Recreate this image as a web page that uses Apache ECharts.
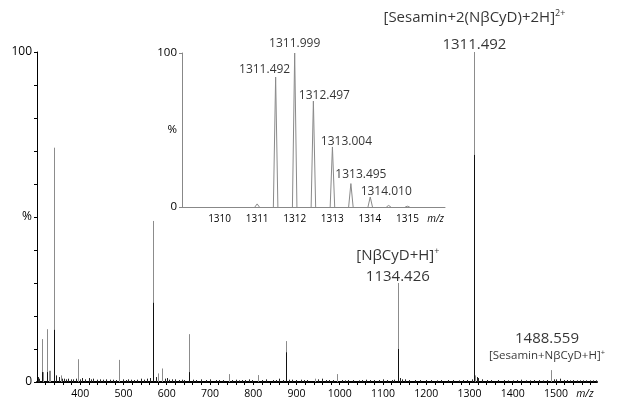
<!DOCTYPE html>
<html>
<head>
<meta charset="utf-8">
<script src="https://cdn.jsdelivr.net/npm/echarts@6/dist/echarts.min.js"></script>
<style>html,body{margin:0;padding:0;background:#fff}#c{width:617px;height:402px}</style>
</head>
<body>
<div id="c"></div>
<script>
// ---- main spectrum (m/z, relative intensity %) ----
const mainMz  = [310.5, 313, 322, 327.6, 329.5, 339.9, 356, 395.5, 488.5, 569.4, 580.3, 589.6, 650.8, 744.4, 812.2, 875.5, 942, 993.4, 1134.4, 1311.5, 1313.0, 1488.6];
const mainInt = [13, 3, 16, 3.4, 3.4, 71, 2, 6.9, 6.7, 48.8, 2.6, 4.1, 14.5, 2.4, 2.1, 12.4, 1, 2.4, 30, 100, 2, 3.6];
// darker (overlapping isotope lines) lower part of the main peaks
const darkMz  = [310.5, 322, 339.9, 569.4, 650.8, 875.5, 1134.4, 1311.5];
const darkInt = [3, 3, 15.8, 24, 3, 9, 10, 68.8];
// small baseline peaks
const noiseMz  = [302, 305, 345, 352, 358, 362, 368, 372, 378, 384, 390, 400, 405, 412, 420, 425, 430, 438, 445, 452, 460, 468, 475, 482, 498, 505, 510, 518, 525, 532, 540, 548, 555, 562, 575, 595, 600, 606, 612, 620, 628, 635, 640, 660, 668, 680, 690, 700, 715, 722, 730, 752, 760, 768, 775, 782, 790, 798, 820, 830, 845, 852, 860, 868, 882, 890, 900, 910, 918, 925, 950, 960, 968, 975, 985, 1005, 1012, 1020, 1030, 1045, 1052, 1060, 1070, 1080, 1090, 1100, 1110, 1120, 1126, 1140, 1145, 1150, 1160, 1175, 1185, 1200, 1210, 1225, 1235, 1250, 1262, 1275, 1285, 1295, 1305, 1318, 1320, 1330, 1340, 1350, 1365, 1380, 1390, 1400, 1410, 1420, 1430, 1440, 1450, 1460, 1470, 1480, 1495, 1500, 1510, 1518, 1525, 1532, 1540, 1548, 1555, 1562, 1570, 1578, 1585, 1592];
const noiseInt = [1.5, 1, 2, 1.5, 1, 1, 0.8, 1, 0.8, 0.8, 1, 0.8, 1.2, 0.8, 1.2, 0.8, 1, 0.7, 0.8, 0.7, 0.8, 0.7, 0.7, 0.6, 0.8, 0.6, 0.8, 0.7, 0.6, 0.7, 1, 0.7, 1, 1.2, 1.5, 1, 1.2, 0.7, 0.8, 0.8, 0.6, 0.7, 0.6, 0.7, 0.6, 0.8, 0.6, 0.8, 0.6, 0.6, 0.6, 0.6, 0.7, 0.5, 0.6, 0.6, 0.8, 0.6, 0.6, 0.8, 0.6, 0.6, 1, 0.6, 0.7, 0.7, 0.6, 0.7, 0.6, 0.6, 0.8, 1, 0.6, 0.6, 0.6, 0.6, 0.5, 0.6, 0.6, 0.5, 0.6, 0.7, 0.6, 0.6, 0.6, 0.8, 0.6, 0.6, 0.7, 1.2, 0.8, 0.8, 0.6, 0.6, 0.6, 0.6, 0.6, 0.5, 0.6, 0.6, 0.6, 0.5, 0.6, 0.6, 0.8, 1.5, 1.2, 0.8, 0.6, 0.6, 0.6, 0.6, 0.5, 0.5, 0.6, 0.7, 0.5, 0.5, 0.6, 0.6, 0.5, 0.6, 0.8, 0.8, 1, 0.6, 0.6, 0.5, 0.6, 0.5, 0.5, 0.5, 0.5, 0.5, 0.5, 0.5];
const mainXTicks = [400, 500, 600, 700, 800, 900, 1000, 1100, 1200, 1300, 1400, 1500];
const mainYLabels = [0, 50, 100];

// annotations on the main spectrum
const annMz   = [1311.5, 1134.4, 1488.6];
const annInt  = [100, 30, 3.6];
const annIon  = ['[Sesamin+2(NβCyD)+2H]', '[NβCyD+H]', '[Sesamin+NβCyD+H]'];
const annChg  = ['2+', '+', '+'];
const annMass = ['1311.492', '1134.426', '1488.559'];

// ---- inset: isotope cluster ----
const insetMz  = [1311.0, 1311.492, 1311.999, 1312.497, 1313.004, 1313.495, 1314.010, 1314.5, 1315.0];
const insetInt = [2, 84.4, 100, 68.8, 39, 15.2, 6.5, 1, 0.5];
const insetLabelMz  = [1311.492, 1311.999, 1312.497, 1313.004, 1313.495, 1314.010];
const insetLabelInt = [84.4, 100, 68.8, 39, 15.2, 6.5];
const insetXTicks = [1310, 1311, 1312, 1313, 1314, 1315];
const insetYLabels = [0, 50, 100];

const FONT = 'Open Sans';
const chart = echarts.init(document.getElementById('c'), null, {renderer: 'canvas'});

function spikeSeries(name, mz, ints, color, z) {
  return {
    name, type: 'custom', xAxisIndex: 0, yAxisIndex: 0, z,
    data: mz.map((m, i) => [m, ints[i]]),
    encode: {x: 0, y: 1},
    clip: true,
    renderItem(params, api) {
      const p0 = api.coord([api.value(0), 0]);
      const p1 = api.coord([api.value(0), api.value(1)]);
      const x = Math.round(p0[0]) + 0.5;
      return {type: 'line', shape: {x1: x, y1: p0[1], x2: x, y2: p1[1]}, style: {stroke: color, lineWidth: 1}};
    }
  };
}

const insetOffsets = [[-11, 1], [0, -1], [11, 3], [14, 3], [10, -1], [16, 3]];
const annLabel = [
  {distance: -1, offset: [0, 0], formatter: '{t|' + annIon[0] + '}{sup|' + annChg[0] + '}\n{m|' + annMass[0] + '}'},
  {distance: -2, offset: [0, 0], formatter: '{t2|' + annIon[1] + '}{sup2|' + annChg[1] + '}\n{m|' + annMass[1] + '}'},
  {distance: 1, offset: [-4, -4], formatter: '{m|' + annMass[2] + '}\n{s|' + annIon[2] + '}{ss|' + annChg[2] + '}'}
];

const option = {
  animation: false,
  backgroundColor: '#fff',
  textStyle: {fontFamily: FONT},
  grid: [
    {left: 37, top: 52, width: 560, height: 330, containLabel: false},
    {left: 182, top: 53, width: 263, height: 154, containLabel: false}
  ],
  xAxis: [
    {
      type: 'value', gridIndex: 0, min: 300, max: 1595,
      splitLine: {show: false},
      axisLine: {lineStyle: {color: '#000', width: 2}},
      axisTick: {show: true, customValues: [320,340,360,380,400,420,440,460,480,500,520,540,560,580,600,620,640,660,680,700,720,740,760,780,800,820,840,860,880,900,920,940,960,980,1000,1020,1040,1060,1080,1100,1120,1140,1160,1180,1200,1220,1240,1260,1280,1300,1320,1340,1360,1380,1400,1420,1440,1460,1480,1500,1520,1540,1560,1580], length: 3, lineStyle: {color: '#000', width: 1}},
      axisLabel: {
        customValues: mainXTicks.concat([1567]), margin: 7, color: '#000', fontSize: 10.5, fontFamily: FONT,
        formatter: v => v === 1567 ? '{i|m/z}' : String(v),
        rich: {i: {fontStyle: 'italic', fontSize: 10.5, fontFamily: FONT, color: '#000'}}
      }
    },
    {
      type: 'value', gridIndex: 1, min: 1309, max: 1316,
      splitLine: {show: false},
      axisLine: {lineStyle: {color: '#888', width: 1}},
      axisTick: {show: false},
      axisLabel: {
        customValues: insetXTicks.concat([1315.75]), margin: 7, color: '#000', fontSize: 10, fontFamily: FONT,
        formatter: v => v === 1315.75 ? '{i|m/z}' : String(v),
        rich: {i: {fontStyle: 'italic', fontSize: 10, fontFamily: FONT, color: '#000'}}
      }
    }
  ],
  yAxis: [
    {
      type: 'value', gridIndex: 0, min: 0, max: 100,
      splitLine: {show: false},
      axisLine: {show: true, lineStyle: {color: '#000', width: 1}},
      axisTick: {show: true, customValues: [0,10,20,30,40,50,60,70,80,90,100], length: 3, lineStyle: {color: '#000'}},
      axisLabel: {customValues: mainYLabels, margin: 5, color: '#000', fontSize: 12, fontFamily: FONT,
        formatter: v => v === 50 ? '%' : String(v)}
    },
    {
      type: 'value', gridIndex: 1, min: 0, max: 100,
      splitLine: {show: false},
      axisLine: {show: true, lineStyle: {color: '#888', width: 1}},
      axisTick: {show: true, customValues: [0, 100], length: 3, lineStyle: {color: '#888'}},
      axisLabel: {customValues: insetYLabels, margin: 5, color: '#000', fontSize: 11.5, fontFamily: FONT,
        formatter: v => v === 50 ? '%' : String(v)}
    }
  ],
  series: [
    spikeSeries('noise', noiseMz, noiseInt, '#222', 3),
    spikeSeries('main', mainMz, mainInt, '#8c8c8c', 4),
    spikeSeries('dark', darkMz, darkInt, '#111', 5),
    {
      name: 'annotations', type: 'scatter', xAxisIndex: 0, yAxisIndex: 0, symbolSize: 0, z: 6,
      data: annMz.map((m, i) => ({
        value: [m, annInt[i]],
        label: Object.assign({show: true, position: 'top', align: 'center'}, annLabel[i])
      })),
      label: {
        rich: {
          t: {fontSize: 15, fontFamily: FONT, color: '#000', lineHeight: 36},
          sup: {fontSize: 9, fontFamily: FONT, color: '#000', padding: [0, 0, 10, 0]},
          t2: {fontSize: 15, fontFamily: FONT, color: '#000', lineHeight: 24},
          sup2: {fontSize: 9, fontFamily: FONT, color: '#000', padding: [0, 0, 10, 0]},
          m: {fontSize: 15, fontFamily: FONT, color: '#000', lineHeight: 17},
          s: {fontSize: 11.5, fontFamily: FONT, color: '#000', lineHeight: 18},
          ss: {fontSize: 7.5, fontFamily: FONT, color: '#000', padding: [0, 0, 7, 0]}
        }
      }
    },
    {
      name: 'inset', type: 'custom', xAxisIndex: 1, yAxisIndex: 1, z: 4,
      data: insetMz.map((m, i) => [m, insetInt[i]]),
      encode: {x: 0, y: 1},
      renderItem(params, api) {
        const m = api.value(0), h = api.value(1), w = 0.06;
        const a = api.coord([m - w, 0]), b = api.coord([m, h]), c = api.coord([m + w, 0]);
        return {type: 'polyline', shape: {points: [a, b, c]}, style: {stroke: '#8a8a8a', fill: null, lineWidth: 1}};
      }
    },
    {
      name: 'insetLabels', type: 'scatter', xAxisIndex: 1, yAxisIndex: 1, symbolSize: 0, z: 6,
      data: insetLabelMz.map((m, i) => ({
        value: [m, insetLabelInt[i]],
        label: {show: true, position: 'top', distance: 2, offset: insetOffsets[i],
          formatter: String(m.toFixed(3)), fontSize: 12, fontFamily: FONT, color: '#000'}
      }))
    }
  ]
};
chart.setOption(option);
</script>
</body>
</html>
